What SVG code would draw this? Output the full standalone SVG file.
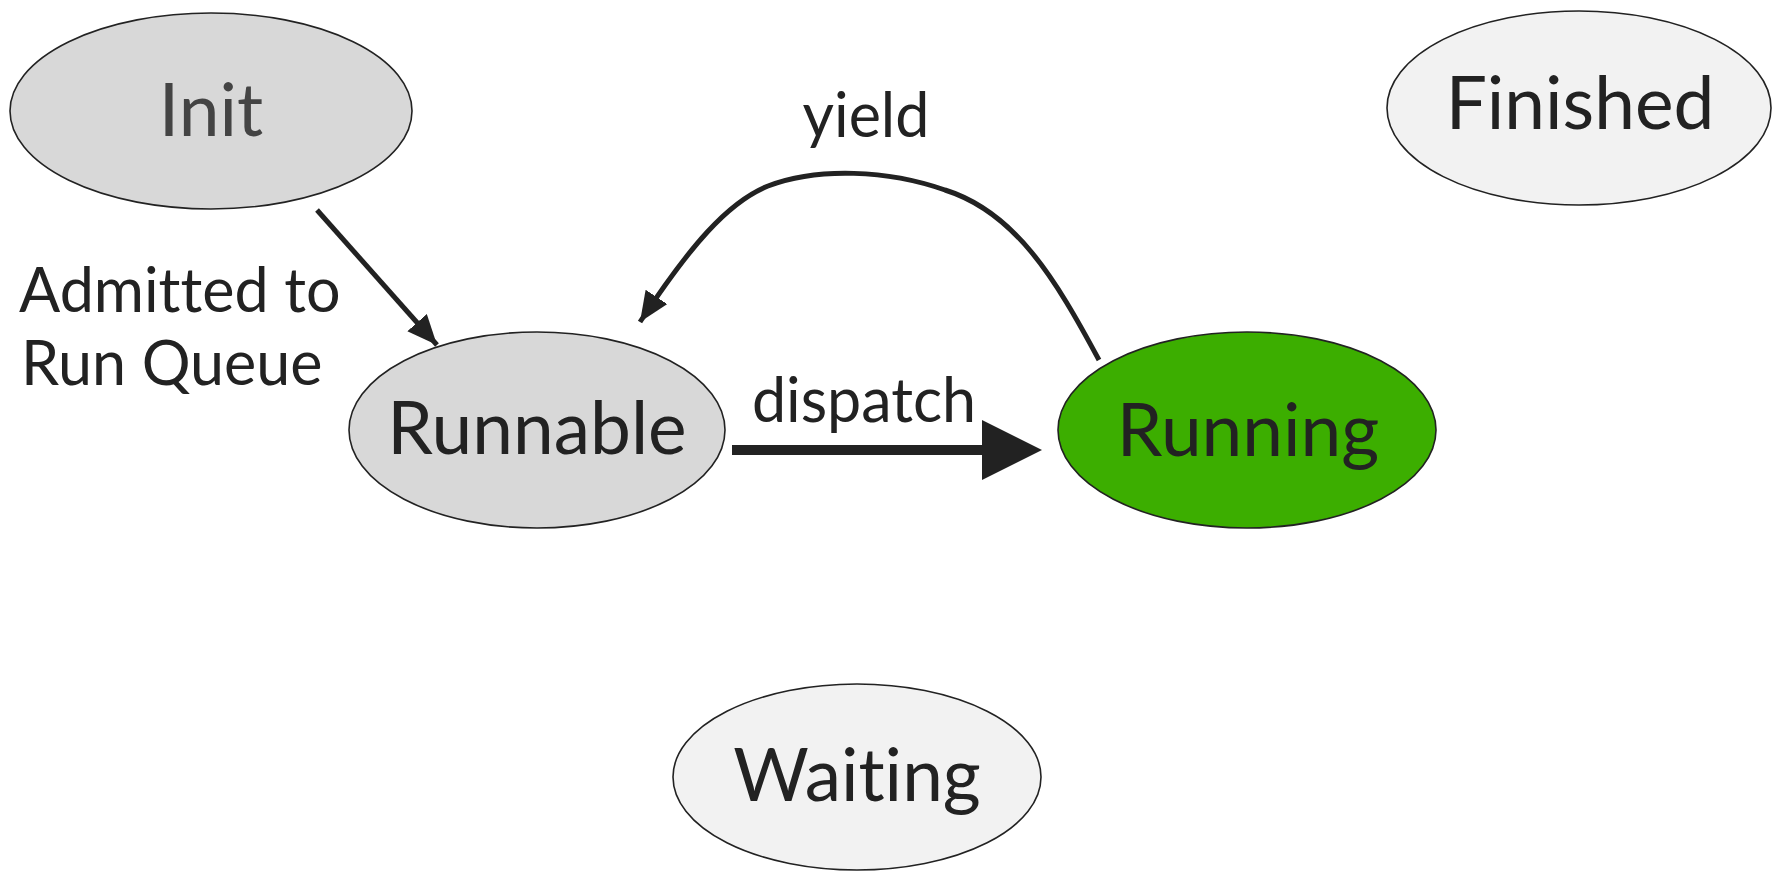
<svg xmlns="http://www.w3.org/2000/svg" width="1779" height="877" viewBox="0 0 1779 877">
<style>
.node{stroke:#222;stroke-width:1.6}
.gray{fill:#d8d8d8}
.light{fill:#f2f2f2}
.green{fill:#3cae00}
text{font-variant-ligatures:none}
.nt{font-family:Lato,"Liberation Sans",sans-serif;font-size:73px;fill:#222;text-anchor:middle}
.lt{font-family:Lato,"Liberation Sans",sans-serif;font-size:61px;fill:#222}
.edge{fill:none;stroke:#222}
</style>
<defs>
<marker id="ah" markerUnits="userSpaceOnUse" markerWidth="32" markerHeight="28" refX="30" refY="13" orient="auto"><path d="M0,0 L30,13 L0,26 Z" fill="#222"/></marker>
<marker id="ahbig" markerUnits="userSpaceOnUse" markerWidth="62" markerHeight="62" refX="0" refY="30" orient="auto"><path d="M0,0 L60,30 L0,60 Z" fill="#222"/></marker>
</defs>
<rect width="1779" height="877" fill="#fff"/>
<g id="connectors">
<path class="edge" d="M317,210 L437,345" stroke-width="5" marker-end="url(#ah)"/>
<path class="edge" d="M732,450 L982,450" stroke-width="10" marker-end="url(#ahbig)"/>
<path class="edge" d="M1099,360 C1055,278 1015,212 945,190 C888,170 818,167 768,186 C728,202 690,246 640,322" stroke-width="5" marker-end="url(#ah)"/>
<text class="lt" x="866" y="137" text-anchor="middle">yield</text>
<text class="lt" x="864" y="422" text-anchor="middle">dispatch</text>
<text class="lt" x="19" y="312">Admitted to</text>
<text class="lt" x="21" y="385">Run Queue</text>
</g>
<g id="init"><ellipse class="node gray" cx="211" cy="111" rx="201" ry="98"/><text class="nt" x="211" y="136" style="fill:#444">Init</text></g>
<g id="runnable"><ellipse class="node gray" cx="537" cy="430" rx="188" ry="98"/><text class="nt" x="537" y="454">Runnable</text></g>
<g id="running"><ellipse class="node green" cx="1247" cy="430" rx="189" ry="98"/><text class="nt" x="1248" y="456">Running</text></g>
<g id="finished"><ellipse class="node light" cx="1579" cy="108" rx="192" ry="97"/><text class="nt" x="1580" y="129">Finished</text></g>
<g id="waiting"><ellipse class="node light" cx="857" cy="777" rx="184" ry="93"/><text class="nt" x="857" y="801">Waiting</text></g>
</svg>
